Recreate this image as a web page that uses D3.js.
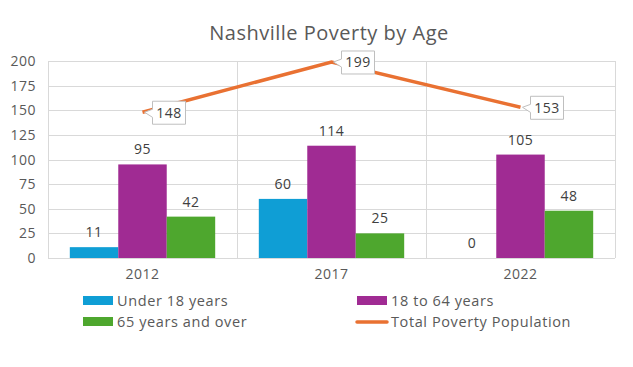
<!DOCTYPE html>
<html><head><meta charset="utf-8">
<script src="https://cdn.jsdelivr.net/npm/d3@7"></script>
<style>body{margin:0;background:#fff}svg{display:block;font-family:"Open Sans","Noto Sans",sans-serif}</style>
</head><body><svg id="c" width="633" height="367"></svg>
<script>
const categories = ["2012","2017","2022"];
const under18 = [11,60,0];
const age18to64 = [95,114,105];
const over65 = [42,25,48];
const totalPoverty = [148,199,153];
const yTicks = [0,25,50,75,100,125,150,175,200];
const seriesNames = ["Under 18 years","18 to 64 years","65 years and over","Total Poverty Population"];
const colors = ["#0F9ED5","#A02B93","#4EA72E","#E97132"];

const svg = d3.select("#c");
const L=48,R=615,T=61,B=258;
const x = d3.scaleBand().domain(categories).range([L,R]).paddingInner(0).paddingOuter(0);
const y = d3.scaleLinear().domain([0,200]).range([B,T]);
const barSeries=[under18,age18to64,over65];
const inner = d3.scaleBand().domain([0,1,2]).range([0,x.bandwidth()]).paddingInner(0).paddingOuter(0.45);

svg.append("text").attr("x",329).attr("y",40).attr("text-anchor","middle").attr("font-size",20).attr("letter-spacing",0.5).attr("fill","#595959").text("Nashville Poverty by Age");

// gridlines
svg.append("g").selectAll("line").data(yTicks).join("line")
 .attr("x1",L).attr("x2",R).attr("y1",d=>Math.round(y(d))+0.5).attr("y2",d=>Math.round(y(d))+0.5)
 .attr("stroke","#d9d9d9").attr("stroke-width",1);
svg.append("g").selectAll("line").data([0,1,2,3]).join("line")
 .attr("x1",i=>Math.round(L+i*x.bandwidth())+0.5).attr("x2",i=>Math.round(L+i*x.bandwidth())+0.5)
 .attr("y1",T).attr("y2",B).attr("stroke","#d9d9d9");

const fs=14, ls=0.5;
// y axis labels
svg.append("g").selectAll("text").data(yTicks).join("text")
 .attr("x",36).attr("y",d=>y(d)+5).attr("text-anchor","end").attr("font-size",fs).attr("letter-spacing",ls).attr("fill","#595959").text(d=>d);
// x axis labels
svg.append("g").selectAll("text").data(categories).join("text")
 .attr("x",d=>x(d)+x.bandwidth()/2).attr("y",279).attr("text-anchor","middle").attr("font-size",fs).attr("letter-spacing",ls).attr("fill","#595959").text(d=>d);

// bars
barSeries.forEach((s,si)=>{
  const g=svg.append("g");
  g.selectAll("rect").data(s).join("rect")
   .attr("x",(d,i)=>x(categories[i])+inner(si)).attr("width",inner.bandwidth())
   .attr("y",d=>y(d)).attr("height",d=>B-y(d)).attr("fill",colors[si]);
  g.selectAll("text").data(s).join("text")
   .attr("x",(d,i)=>x(categories[i])+inner(si)+inner.bandwidth()/2).attr("y",d=>y(d)-10)
   .attr("text-anchor","middle").attr("font-size",fs).attr("letter-spacing",ls).attr("fill","#404040").text(d=>d);
});

// line
const lx=(d,i)=>x(categories[i])+x.bandwidth()/2;
svg.append("path").datum(totalPoverty).attr("fill","none").attr("stroke",colors[3]).attr("stroke-width",3.5)
 .attr("d",d3.line().x(lx).y(d=>y(d)));

// callout labels
const lab=svg.append("g");
totalPoverty.forEach((d,i)=>{
  const px=lx(d,i), py=y(d);
  const bx=px+10, by=py-11, bw=33, bh=23;
  const g=lab.append("g");
  g.append("path").attr("d",`M${bx},${by} H${bx+bw} V${by+bh} H${bx} V${by+bh*0.7} L${px+2},${py} L${bx},${by+bh*0.35} Z`)
   .attr("fill","#fff").attr("stroke","#bfbfbf").attr("stroke-width",1);
  g.append("text").attr("x",bx+bw/2).attr("y",by+16.5).attr("text-anchor","middle").attr("font-size",fs).attr("letter-spacing",ls).attr("fill","#404040").text(d);
});

// legend
const leg=[[83,300],[357,300],[83,321],[357,321]];
[0,1,2,3].forEach((si,k)=>{
  const [lxx,lyy]=leg[k];
  if(si<3) svg.append("rect").attr("x",lxx).attr("y",lyy-4).attr("width",30).attr("height",9).attr("fill",colors[si]);
  else svg.append("line").attr("x1",lxx).attr("x2",lxx+30).attr("y1",lyy+1).attr("y2",lyy+1).attr("stroke",colors[si]).attr("stroke-width",3.5).attr("stroke-linecap","round");
  svg.append("text").attr("x",lxx+34).attr("y",lyy+5.5).attr("font-size",14.5).attr("letter-spacing",0.6).attr("fill","#595959").text(seriesNames[si]);
});
</script></body></html>
